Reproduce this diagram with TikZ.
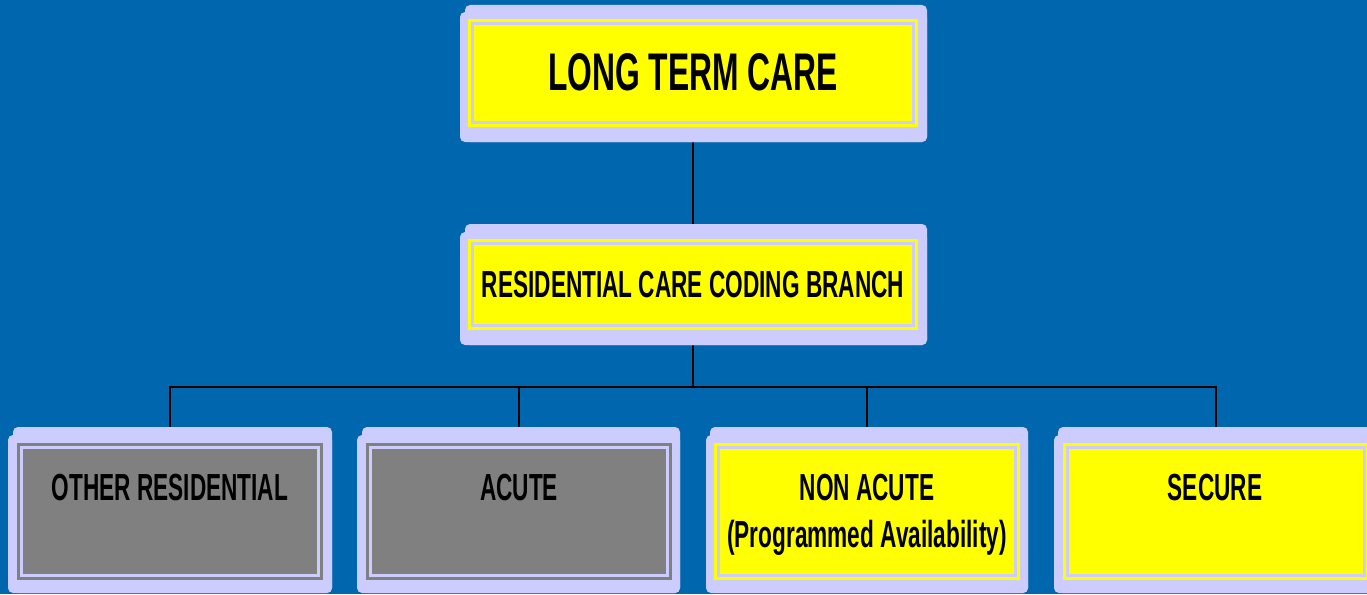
\documentclass[tikz,border=0pt]{standalone}
\usepackage{fontspec}
\newfontfamily\nf[FakeStretch=0.6]{Liberation Sans}
\definecolor{bgblue}{RGB}{0,103,174}
\definecolor{lav}{RGB}{204,204,255}
\definecolor{ylw}{RGB}{255,255,0}
\definecolor{gry}{RGB}{128,128,128}
\pgfdeclarelayer{bg}
\pgfsetlayers{bg,main}
\begin{document}
\begin{tikzpicture}[x=1pt,y=-1pt,
  outer/.style={fill=lav, rounded corners=5pt},
  ybox/.style={fill=ylw, inner sep=0pt, draw=none},
  gbox/.style={fill=gry, inner sep=0pt, draw=none},
  inline/.style={draw=lav, line width=2.5pt},
  lbl/.style={font=\nf\bfseries\fontsize{37.7}{47}\selectfont, anchor=base, inner sep=0pt, align=center, text=black},
  conn/.style={draw=black, line width=2pt}]
\useasboundingbox (0,0) rectangle (1367,594);
\begin{pgfonlayer}{bg}
\fill[bgblue] (0,0) rectangle (1367,594);
\end{pgfonlayer}

% outer lavender frames
\fill[outer] (460,12) rectangle (927,142);
\fill[outer] (465,5) rectangle (927,142);
\fill[outer] (460,232) rectangle (927,345);
\fill[outer] (465,224) rectangle (927,345);
\fill[outer] (8,435) rectangle (332,593);
\fill[outer] (13,427) rectangle (332,593);
\fill[outer] (357,435) rectangle (680,593);
\fill[outer] (362,427) rectangle (680,593);
\fill[outer] (706,435) rectangle (1028,593);
\fill[outer] (710,427) rectangle (1028,593);
\fill[outer] (1054,435) rectangle (1385,593);
\fill[outer] (1058,427) rectangle (1385,593);

% coloured boxes
\node[ybox, minimum width=450pt, minimum height=108pt] (ltc) at (693,73) {};
\node[ybox, minimum width=450pt, minimum height=91pt] (rcc) at (693,284.5) {};
\node[gbox, minimum width=306pt, minimum height=137pt] (c1) at (170,511.5) {};
\node[gbox, minimum width=306pt, minimum height=137pt] (c2) at (519,511.5) {};
\node[ybox, minimum width=306pt, minimum height=137pt] (c3) at (867,511.5) {};
\node[ybox, minimum width=306pt, minimum height=137pt] (c4) at (1216,511.5) {};
\foreach \n in {ltc,rcc,c1,c2,c3,c4}{
  \draw[inline] ([shift={(4.5,4.5)}]\n.north west) rectangle ([shift={(-4.5,-4.5)}]\n.south east);
}

% labels
\node[lbl, font=\nf\bfseries\fontsize{53}{60}\selectfont] (t0) at (693,90) {LONG TERM CARE};
\node[lbl] (t1) at (693,297) {RESIDENTIAL CARE CODING BRANCH};
\node[lbl] (t2) at (170,500) {OTHER RESIDENTIAL};
\node[lbl] (t3) at (519,500) {ACUTE};
\node[lbl] (t4) at (867,547) {NON ACUTE\\(Programmed Availability)};
\node[lbl] (t5) at (1215,500) {SECURE};

% connectors
\begin{pgfonlayer}{bg}
\coordinate (bus) at (693,387);
\draw[conn] (ltc.center) -- (rcc.center);
\draw[conn] (rcc.center) -- (bus);
\draw[conn] (c1.center) |- (bus) -| (c4.center);
\draw[conn] (c2.center) -- (c2 |- bus);
\draw[conn] (c3.center) -- (c3 |- bus);
\end{pgfonlayer}
\end{tikzpicture}
\end{document}
